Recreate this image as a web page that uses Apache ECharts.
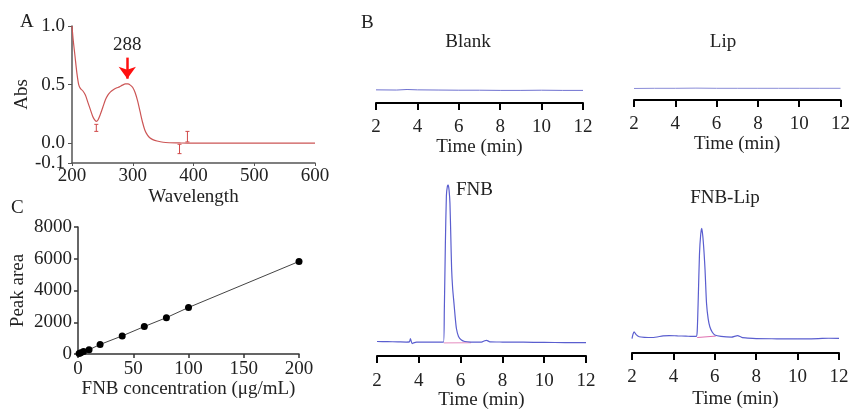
<!DOCTYPE html>
<html><head><meta charset="utf-8">
<script src="https://cdn.jsdelivr.net/npm/echarts@6/dist/echarts.min.js"></script>
<style>html,body{margin:0;padding:0;background:#fff}#c{width:853px;height:411px}</style>
</head><body><div id="c"></div>
<script>
// Panel A: UV spectrum
const wavelength = [200,202,205,208,211,214,218,222,226,230,234,237,240,243,247,251,255,259,263,268,273,278,283,288,292,296,300,304,308,312,316,320,324,328,333,340,350,360,380,400,500,600];
const absorbance = [1.0,0.88,0.74,0.6,0.5,0.465,0.445,0.41,0.35,0.29,0.23,0.2,0.185,0.2,0.25,0.31,0.37,0.41,0.435,0.455,0.47,0.48,0.495,0.505,0.505,0.495,0.475,0.43,0.36,0.27,0.18,0.11,0.07,0.045,0.03,0.018,0.007,0.003,0.001,0,0,0];
const errWavelength = [240,377,390];
const errLow = [0.10,-0.09,0.01];
const errHigh = [0.16,-0.01,0.10];
const peakWavelength = 288;
const absTicks = [-0.17,0,0.5,1.0];
// Panel C: calibration curve
const concentration = [1,2.5,5,10,20,40,60,80,100,200];
const peakArea = [30,80,150,270,600,1140,1730,2290,2930,5830];
// Panel B: chromatograms
const blankTime = [2,3,3.5,4,5,6,7,8,9,10,11,12];
const blankSignal = [7.3,7.2,7.5,7.3,7.2,7.1,7.1,7.0,7.0,7.1,7.0,7.0];
const lipTime = [2,3,4,5,6,7,8,9,10,11,12];
const lipSignal = [6.4,6.5,6.5,6.6,6.5,6.5,6.5,6.5,6.5,6.5,6.5];
const fnbTime = [2,2.5,3,3.4,3.55,3.6,3.68,3.75,3.9,4.5,5.0,5.18,5.22,5.27,5.32,5.37,5.41,5.45,5.49,5.53,5.57,5.62,5.68,5.74,5.8,5.9,6.04,6.2,6.5,7.0,7.15,7.25,7.4,8,9,10,11,12];
const fnbSignal = [8.2,8.1,8.0,7.9,8.0,9.8,7.0,7.4,7.8,7.9,7.8,7.8,25,62,90,95.5,96,93,86,68,49,38,30,22,15.5,11,9,8.2,7.9,7.8,8.6,8.8,8.0,7.9,7.8,7.7,7.6,7.6];
const fnbLipTime = [2,2.05,2.1,2.2,2.35,2.6,3.0,3.5,3.8,4.2,4.6,4.9,5.1,5.15,5.2,5.26,5.32,5.37,5.42,5.48,5.53,5.6,5.68,5.76,5.88,6.0,6.3,6.8,7.1,7.3,7.6,8,9,10,11,11.5,12];
const fnbLipSignal = [8.0,10.5,11.8,10.2,9.0,8.7,8.6,9.5,9.7,9.5,9.4,9.2,9.2,12,30,55,66,69.3,65,56,46,27.6,19,14.6,11.5,10,9.2,8.8,9.7,8.7,8.3,8.0,7.9,7.8,8.0,8.2,8.1];
const fnbBaseTime = [5.2,6.5];
const fnbBaseSignal = [7.4,7.5];
const fnbLipBaseTime = [5.15,6.05];
const fnbLipBaseSignal = [8.6,9.4];
const timeTicks = [2,4,6,8,10,12];

const FONT = 'Liberation Serif';
const FS = 19;
const TXT = '#222';
const zip = (a,b)=>a.map((v,i)=>[v,b[i]]);

function chromX(gi, gap){
  return {gridIndex:gi, type:'value', min:2, max:12, interval:2,
    name:'Time (min)', nameLocation:'middle', nameGap:gap,
    nameTextStyle:{fontFamily:FONT,fontSize:FS,color:TXT},
    axisLine:{show:true,onZero:false,lineStyle:{color:'#000',width:2}},
    axisTick:{show:true,length:7,inside:false,lineStyle:{color:'#000',width:2}},
    axisLabel:{margin:15,fontFamily:FONT,fontSize:FS,color:TXT},
    splitLine:{show:false}};
}
function hiddenY(gi,max){
  return {gridIndex:gi,type:'value',min:0,max:max,show:false,splitLine:{show:false}};
}

const chart = echarts.init(document.getElementById('c'),null,{renderer:'canvas'});
chart.setOption({
  animation:false,
  backgroundColor:'#fff',
  textStyle:{fontFamily:FONT},
  grid:[
    {left:72, top:26, width:243, height:137},   // A
    {left:78, top:227, width:221, height:127},  // C
    {left:376, top:43, width:207, height:60},   // Blank
    {left:634, top:40, width:208, height:60},   // Lip
    {left:377, top:178, width:209, height:180}, // FNB
    {left:632, top:173, width:207, height:180}  // FNB-Lip
  ],
  xAxis:[
    {gridIndex:0,type:'value',min:200,max:600,interval:100,
      name:'Wavelength',nameLocation:'middle',nameGap:25,
      nameTextStyle:{fontFamily:FONT,fontSize:FS,color:TXT},
      axisLine:{onZero:false,lineStyle:{color:'#555',width:1.5}},
      axisTick:{show:true,length:3,lineStyle:{color:'#555'}},
      axisLabel:{margin:4,fontFamily:FONT,fontSize:FS,color:TXT},
      splitLine:{show:false}},
    {gridIndex:1,type:'value',min:0,max:200,interval:50,
      name:'FNB concentration (μg/mL)',nameLocation:'middle',nameGap:25,
      nameTextStyle:{fontFamily:FONT,fontSize:FS,color:TXT},
      axisLine:{onZero:false,lineStyle:{color:'#333',width:1.5}},
      axisTick:{show:true,length:4,lineStyle:{color:'#333',width:1.5}},
      axisLabel:{margin:6,fontFamily:FONT,fontSize:FS,color:TXT},
      splitLine:{show:false}},
    chromX(2,35), chromX(3,35), chromX(4,32), chromX(5,37)
  ],
  yAxis:[
    {gridIndex:0,type:'value',min:-0.17,max:1.0,
      name:'Abs',nameLocation:'middle',nameGap:35,nameRotate:90,
      nameTextStyle:{fontFamily:FONT,fontSize:FS,color:TXT},
      axisLine:{show:true,onZero:false,lineStyle:{color:'#555',width:1.5}},
      axisTick:{show:true,length:4,customValues:absTicks,lineStyle:{color:'#555'}},
      axisLabel:{margin:7,fontFamily:FONT,fontSize:FS,lineHeight:14,color:TXT,customValues:absTicks,
        showMinLabel:true,showMaxLabel:true,hideOverlap:false,
        formatter:v=> v < -0.05 ? '-0.1' : v.toFixed(1)},
      splitLine:{show:false}},
    {gridIndex:1,type:'value',min:0,max:8000,interval:2000,
      name:'Peak area',nameLocation:'middle',nameGap:50,nameRotate:90,
      nameTextStyle:{fontFamily:FONT,fontSize:FS,color:TXT},
      axisLine:{show:true,onZero:false,lineStyle:{color:'#333',width:1.5}},
      axisTick:{show:true,length:4,lineStyle:{color:'#333',width:1.5}},
      axisLabel:{margin:6,fontFamily:FONT,fontSize:FS,color:TXT,formatter:v=>String(v)},
      splitLine:{show:false}},
    hiddenY(2,33.33), hiddenY(3,33.33), hiddenY(4,100), hiddenY(5,100)
  ],
  series:[
    {type:'line',xAxisIndex:0,yAxisIndex:0,data:zip(wavelength,absorbance),
      showSymbol:false,smooth:0.3,lineStyle:{color:'#cc5555',width:1.2},
      markLine:{silent:true,symbol:['none','arrow'],symbolSize:[13,12],
        lineStyle:{color:'#ff1010',width:2.5,type:'solid'},
        label:{show:true,position:'start',distance:3,formatter:String(peakWavelength),
          fontFamily:FONT,fontSize:FS,color:TXT},
        data:[[{coord:[291,0.73]},{coord:[291,0.55]}]]}},
    {type:'custom',xAxisIndex:0,yAxisIndex:0,itemStyle:{color:'#d04848'},
      data:errWavelength.map((w,i)=>[w,errLow[i],errHigh[i]]),
      renderItem:(params,api)=>{
        const lo=api.coord([api.value(0),api.value(1)]);
        const hi=api.coord([api.value(0),api.value(2)]);
        const st={stroke:'#d04848',lineWidth:1,fill:null};
        return {type:'group',children:[
          {type:'line',shape:{x1:lo[0],y1:lo[1],x2:hi[0],y2:hi[1]},style:st},
          {type:'line',shape:{x1:lo[0]-2,y1:lo[1],x2:lo[0]+2,y2:lo[1]},style:st},
          {type:'line',shape:{x1:hi[0]-2,y1:hi[1],x2:hi[0]+2,y2:hi[1]},style:st}
        ]};
      }},
    {type:'line',xAxisIndex:1,yAxisIndex:1,data:zip(concentration,peakArea),
      symbol:'circle',symbolSize:7,itemStyle:{color:'#000'},
      lineStyle:{color:'#444',width:1}},
    {type:'line',xAxisIndex:2,yAxisIndex:2,data:zip(blankTime,blankSignal),showSymbol:false,
      lineStyle:{color:'#6f72d0',width:1}},
    {type:'line',xAxisIndex:3,yAxisIndex:3,data:zip(lipTime,lipSignal),showSymbol:false,
      lineStyle:{color:'#8a8cd8',width:1}},
    {type:'line',xAxisIndex:4,yAxisIndex:4,data:zip(fnbBaseTime,fnbBaseSignal),showSymbol:false,
      lineStyle:{color:'#e58cc0',width:1}},
    {type:'line',xAxisIndex:4,yAxisIndex:4,data:zip(fnbTime,fnbSignal),showSymbol:false,smooth:0.2,
      lineStyle:{color:'#5a5ecf',width:1.2}},
    {type:'line',xAxisIndex:5,yAxisIndex:5,data:zip(fnbLipBaseTime,fnbLipBaseSignal),showSymbol:false,
      lineStyle:{color:'#e070b0',width:1}},
    {type:'line',xAxisIndex:5,yAxisIndex:5,data:zip(fnbLipTime,fnbLipSignal),showSymbol:false,smooth:0.2,
      lineStyle:{color:'#5a5ecf',width:1.2}}
  ],
  graphic:[
    {type:'text',left:20,top:13,style:{text:'A',font:`${FS}px "${FONT}"`,fill:TXT}},
    {type:'text',left:361,top:14,style:{text:'B',font:`${FS}px "${FONT}"`,fill:TXT}},
    {type:'text',left:11,top:199,style:{text:'C',font:`${FS}px "${FONT}"`,fill:TXT}},
    {type:'text',x:468,y:42,style:{text:'Blank',font:`${FS}px "${FONT}"`,fill:TXT,align:'center',verticalAlign:'middle'}},
    {type:'text',x:723,y:42,style:{text:'Lip',font:`${FS}px "${FONT}"`,fill:TXT,align:'center',verticalAlign:'middle'}},
    {type:'text',x:456,y:190,style:{text:'FNB',font:`${FS}px "${FONT}"`,fill:TXT,align:'left',verticalAlign:'middle'}},
    {type:'text',x:725,y:198,style:{text:'FNB-Lip',font:`${FS}px "${FONT}"`,fill:TXT,align:'center',verticalAlign:'middle'}}
  ]
});
</script></body></html>
